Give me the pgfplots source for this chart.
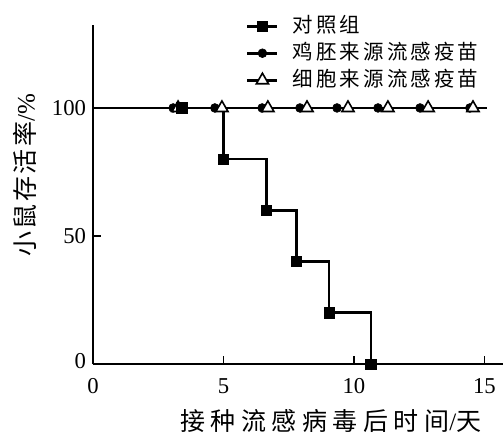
\documentclass[border=0pt]{standalone}
\usepackage{pgfplots}
\pgfplotsset{compat=1.18}
\usepackage{fontspec}
\setmainfont{Liberation Serif}
\newfontfamily\cjkleg[LetterSpace=15]{Noto Sans CJK SC}
\newfontfamily\cjklab[LetterSpace=22]{Noto Sans CJK SC}
\newfontfamily\cjky[LetterSpace=10]{Noto Sans CJK SC}

\begin{document}
\begin{tikzpicture}
\begin{axis}[
  scale only axis, width=410pt, height=339pt,
  at={(0pt,0pt)}, anchor=south west,
  xmin=0, xmax=15.71, ymin=0, ymax=132.4,
  clip=false,
  axis lines=left, axis line style={-, line width=2.4pt},
  xtick={0,5,10,15}, ytick={0,50,100},
  yticklabels={\raisebox{7pt}{0},50,100},
  tick align=inside, major tick length=8pt,
  tick style={line width=1.5pt, black},
  /pgf/number format/assume math mode=true,
  tick label style={font=\fontsize{22.7}{24}\selectfont},
  xticklabel style={yshift=-11pt},
  yticklabel style={xshift=-3.5pt},
  xlabel={\cjklab 接种流感病毒后时间\rmfamily/\cjklab 天},
  xlabel style={at={(axis description cs:0.58,-0.168)}, anchor=center, font=\fontsize{25}{28}\selectfont},
  ylabel={\cjky 小鼠存活率\rmfamily/\%},
  ylabel style={at={(axis description cs:-0.166,0.557)}, anchor=center, font=\fontsize{25}{28}\selectfont},
  legend style={at={(0.373,1.0265)}, anchor=north west, draw=none, fill=none, inner sep=0pt,
    column sep=14pt, row sep=7pt, font=\cjkleg\fontsize{20.5}{22}\selectfont,
    nodes={inner sep=0pt, text height=16pt, text depth=4pt}},
  legend cell align=left,
  legend image code/.code={\draw[#1, mark indices={2}] plot coordinates {(0pt,0pt) (15pt,0pt) (30pt,0pt)};},
  every axis plot post/.append style={line width=2.6pt},
]
\addplot[const plot mark left, mark=square*, mark size=5.2pt,
  mark indices={2,3,4,5,6,7}, mark options={solid, line width=0.6pt}]
  coordinates {(0,100)(3.41,100)(5.0,80)(6.65,60)(7.8,40)(9.05,20)(10.65,0)(15.71,0)};
\addlegendentry{对照组}
\addplot[mark=*, mark size=4.4pt, mark indices={2,3,4,5,6,7,8,9},
  mark options={solid, line width=0.6pt}]
  coordinates {(0,100)(3.07,100)(4.67,100)(6.48,100)(7.93,100)(9.35,100)(10.92,100)(12.53,100)(14.44,100)(15.1,100)};
\addlegendentry{鸡胚来源流感疫苗}
\addplot[mark=triangle*, mark size=7pt, mark indices={2,3,4,5,6,7,8,9},
  mark options={solid, fill=white, line width=1.6pt}]
  coordinates {(0,100)(3.26,100)(4.94,100)(6.70,100)(8.20,100)(9.77,100)(11.30,100)(12.84,100)(14.56,100)(15.1,100)};
\addlegendentry{细胞来源流感疫苗}
\addplot[forget plot, only marks, mark=square*, mark size=5.2pt, mark options={solid, line width=0.6pt}]
  coordinates {(3.41,100)};
\end{axis}
\pgfresetboundingbox
\path (-93pt,-73pt) rectangle (410pt,364pt);
\end{tikzpicture}
\end{document}
